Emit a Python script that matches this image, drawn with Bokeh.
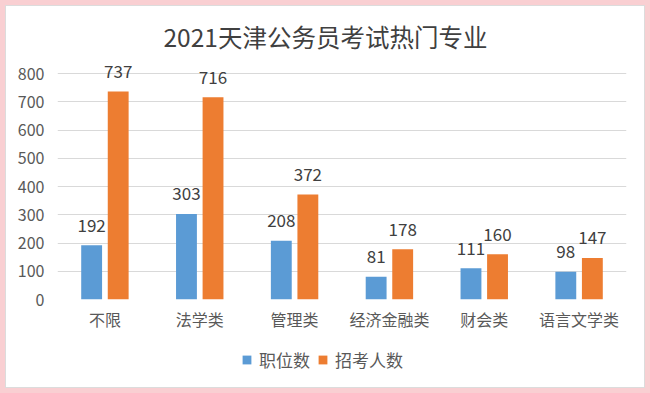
from bokeh.plotting import figure
from bokeh.models import Range1d, FactorRange, FixedTicker, Legend, LegendItem, ColumnDataSource
from bokeh.layouts import column
from bokeh.transform import dodge
from bokeh.core.properties import value
from bokeh.embed import file_html
from bokeh.resources import INLINE

categories = ["不限", "法学类", "管理类", "经济金融类", "财会类", "语言文学类"]
positions = [192, 303, 208, 81, 111, 98]
recruits = [737, 716, 372, 178, 160, 147]
series_names = ["职位数", "招考人数"]
y_ticks = [0, 100, 200, 300, 400, 500, 600, 700, 800]

FONT = "Noto Sans CJK SC"
blue = "#5b9bd5"
orange = "#ed7d31"

src = ColumnDataSource(dict(
    cat=categories,
    pos=positions,
    rec=recruits,
    pos_lbl=[str(v) for v in positions],
    rec_lbl=[str(v) for v in recruits],
))

p = figure(
    x_range=FactorRange(*categories),
    y_range=Range1d(0, 850),
    width=638, height=335,
    min_border_left=51, min_border_right=18,
    min_border_top=53, min_border_bottom=42,
    output_backend="svg", toolbar_location=None,
)

p.title.text = "2021天津公务员考试热门专业"
p.title.align = "left"
p.title.offset = 106
p.title.text_font = FONT
p.title.text_font_size = "24.5px"
p.title.text_font_style = "normal"
p.title.text_color = "#404040"
p.title.standoff = 11

p.outline_line_color = None
p.background_fill_color = "white"
p.border_fill_color = "white"

p.xgrid.grid_line_color = None
p.ygrid.grid_line_color = "#d9d9d9"
p.ygrid.grid_line_width = 1

p.yaxis.ticker = FixedTicker(ticks=y_ticks)
for ax in (p.xaxis, p.yaxis):
    ax.axis_line_color = None
    ax.major_tick_line_color = None
    ax.minor_tick_line_color = None
    ax.major_tick_out = 0
    ax.major_tick_in = 0
    ax.major_label_text_font = FONT
    ax.major_label_text_font_size = "16px"
    ax.major_label_text_color = "#595959"
p.yaxis.major_label_standoff = 13
p.xaxis.major_label_standoff = 7

p.vbar(x=dodge("cat", -0.14, range=p.x_range), top="pos", width=0.22,
       source=src, fill_color=blue, line_color=None)
p.vbar(x=dodge("cat", 0.14, range=p.x_range), top="rec", width=0.22,
       source=src, fill_color=orange, line_color=None)

p.text(x=dodge("cat", -0.14, range=p.x_range), y="pos", text="pos_lbl", source=src,
       text_align="center", text_baseline="middle", y_offset=-20,
       text_font=value(FONT), text_font_size="17px", text_color="#404040")
p.text(x=dodge("cat", 0.14, range=p.x_range), y="rec", text="rec_lbl", source=src,
       text_align="center", text_baseline="middle", y_offset=-20,
       text_font=value(FONT), text_font_size="17px", text_color="#404040")

# legend strip (swatch renderers sit outside the visible range)
lg = figure(width=638, height=46, x_axis_type=None, y_axis_type=None,
            x_range=Range1d(0, 1), y_range=Range1d(0, 1),
            min_border=0, min_border_left=0, min_border_right=0,
            min_border_top=0, min_border_bottom=0,
            output_backend="svg", toolbar_location=None)
lg.outline_line_color = None
lg.border_fill_color = "white"
lr1 = lg.vbar(x=[-5], top=[-5], width=0.1, fill_color=blue, line_color=None)
lr2 = lg.vbar(x=[-5], top=[-5], width=0.1, fill_color=orange, line_color=None)

legend = Legend(items=[LegendItem(label=series_names[0], renderers=[lr1]),
                       LegendItem(label=series_names[1], renderers=[lr2])],
                orientation="horizontal", location=(184, 15))
legend.label_text_font = FONT
legend.label_text_font_size = "17px"
legend.label_text_color = "#595959"
legend.glyph_width = 11
legend.glyph_height = 11
legend.spacing = 7
legend.label_standoff = 7
legend.border_line_color = None
legend.background_fill_alpha = 0
legend.padding = 2
legend.margin = 0
lg.add_layout(legend, "center")

inner = column(p, lg, spacing=0, styles={"border": "1px solid #dcdcdc", "background-color": "white"})
layout = column(inner, styles={"background-color": "#f9cfd2", "padding": "5px"})

open("out.html", "w").write(file_html(layout, INLINE))
